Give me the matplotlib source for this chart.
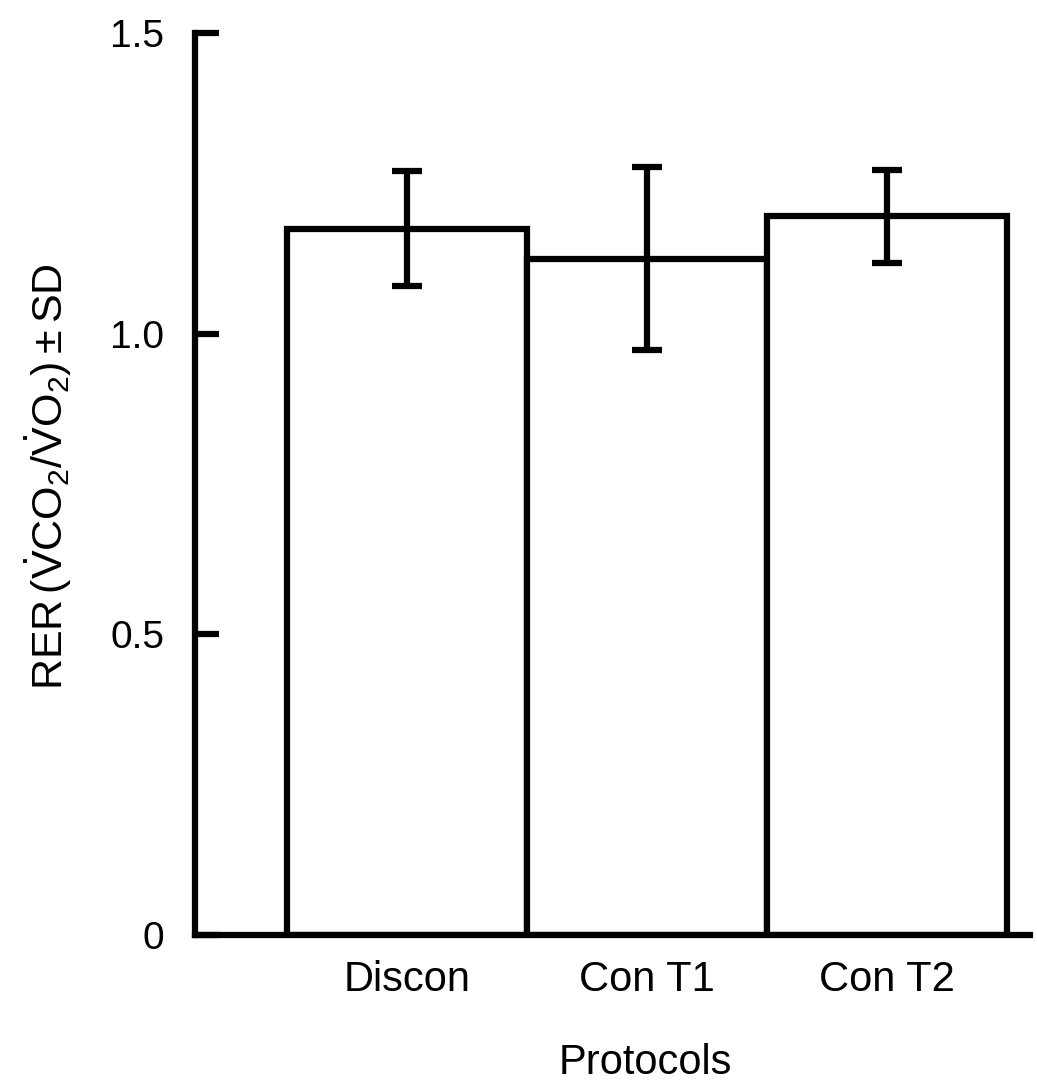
import numpy as np
import matplotlib
matplotlib.use("Agg")
import matplotlib.pyplot as plt

# Datos
protocolos = ["Discon", "Con T1", "Con T2"]
rer_media = [1.175, 1.125, 1.195]
rer_sd = [0.095, 0.152, 0.078]
yticks = [0, 0.5, 1.0, 1.5]
ytick_labels = ["0", "0.5", "1.0", "1.5"]

plt.rcParams['font.family'] = ['Liberation Sans', 'DejaVu Sans']
plt.rcParams['mathtext.fontset'] = 'custom'
plt.rcParams['mathtext.rm'] = 'Liberation Sans'
plt.rcParams['mathtext.it'] = 'Liberation Sans'

fig = plt.figure(figsize=(10.37, 10.81), dpi=100)
ax = fig.add_axes([0.188, 0.135, 0.805, 0.8344])

x = np.arange(len(protocolos))
lw = 4.5
ax.bar(x, rer_media, width=1.0, color="white", edgecolor="black", linewidth=lw, zorder=2)
ax.errorbar(x, rer_media, yerr=rer_sd, fmt="none", ecolor="black",
            elinewidth=lw, capsize=10.5, capthick=lw, zorder=3)

ax.set_xlim(-0.883, 2.596)
ax.set_ylim(0, 1.5)

for s in ["top", "right"]:
    ax.spines[s].set_visible(False)
for s in ["left", "bottom"]:
    ax.spines[s].set_linewidth(lw)

ax.set_yticks(yticks)
ax.set_yticklabels(ytick_labels, fontsize=28)
ax.tick_params(axis="y", direction="in", length=17, width=lw, pad=22)

ax.set_xticks(x)
ax.set_xticklabels(protocolos, fontsize=30)
ax.tick_params(axis="x", length=0, pad=18)

ax.set_xlabel("Protocols", fontsize=30)
ax.xaxis.set_label_coords((645 - 195) / 835, (935 - 1063) / 902)
ax.xaxis.label.set_verticalalignment("center")

ax.set_ylabel(r"RER$\,(\dot{V}\mathrm{CO}_2/\dot{V}\mathrm{O}_2)\pm$SD", fontsize=31)
ax.yaxis.set_label_coords((48 - 195) / 835, (935 - 477) / 902)
ax.yaxis.label.set_verticalalignment("center")

fig.savefig("out.png", dpi=100)
